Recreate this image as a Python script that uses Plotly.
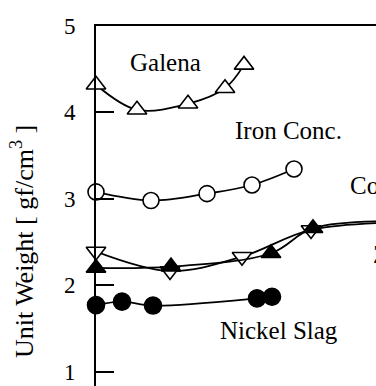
import plotly.graph_objects as go

# Horizontal scale in arbitrary units, unit weight in gf/cm3
galena_x = [0.0, 4.1, 9.2, 12.9, 14.8]
galena_y = [4.32, 4.03, 4.10, 4.28, 4.55]

iron_x = [0.0, 5.5, 11.1, 15.6, 19.8]
iron_y = [3.08, 2.98, 3.06, 3.16, 3.345]

copper_x = [0.0, 7.4, 14.6, 21.5, 31.0]
copper_y = [2.39, 2.165, 2.33, 2.64, 2.73]

zinc_x = [0.0, 7.5, 17.5, 21.7, 31.0]
zinc_y = [2.20, 2.215, 2.37, 2.66, 2.74]

nickel_x = [0.0, 2.6, 5.7, 16.1, 17.6]
nickel_y = [1.77, 1.81, 1.765, 1.848, 1.867]

y_ticks = [1, 2, 3, 4, 5]

SERIF = "Liberation Serif"
LINE = dict(color="black", width=1.8, shape="spline", smoothing=1.0)

fig = go.Figure()


def add_series(x, y, symbol, fill, size):
    fig.add_trace(go.Scatter(
        x=x, y=y, mode="lines+markers",
        line=LINE,
        marker=dict(symbol=symbol, size=size, color=fill,
                    line=dict(color="black", width=1.6)),
        cliponaxis=False, showlegend=False,
    ))


add_series(galena_x, galena_y, "triangle-up", "white", 17)
add_series(iron_x, iron_y, "circle", "white", 16)
add_series(copper_x, copper_y, "triangle-down", "white", 17)
add_series(zinc_x, zinc_y, "triangle-up", "black", 17)
add_series(nickel_x, nickel_y, "circle", "black", 17)

labels = [
    ("Galena", 6.9, 4.583, "center"),
    ("Iron Conc.", 19.2, 3.785, "center"),
    ("Nickel Slag", 18.3, 1.481, "center"),
    ("Copper Slag", 25.2, 3.16, "left"),
    ("Zinc Slag", 27.5, 2.36, "left"),
]
for text, x, y, anchor in labels:
    fig.add_annotation(x=x, y=y, text=text, showarrow=False,
                       xanchor=anchor, yanchor="middle",
                       font=dict(family=SERIF, size=25, color="black"))

# Axis title, centred on the full 0-5 span of the unit-weight axis
fig.add_annotation(x=-0.264, xref="paper", y=2.5, yref="y",
                   text="Unit Weight [ gf/cm<sup>3</sup> ]", textangle=-90,
                   showarrow=False, xanchor="center", yanchor="middle",
                   font=dict(family=SERIF, size=26, color="black"))

fig.update_layout(
    width=376, height=386,
    margin=dict(l=96, r=0, t=26, b=0),
    paper_bgcolor="white", plot_bgcolor="white",
    xaxis=dict(range=[0, 28], side="top", showline=True, linecolor="black",
               linewidth=2, showticklabels=False, ticks="", showgrid=False,
               zeroline=False),
    yaxis=dict(range=[0.834, 5], tickvals=y_ticks, ticks="inside",
               ticklen=18, tickwidth=1.5, tickcolor="black",
               showline=True, linecolor="black", linewidth=2,
               showgrid=False, zeroline=False,
               ticklabelstandoff=14,
               tickfont=dict(family=SERIF, size=23, color="black")),
)

fig.write_html("out.html")
